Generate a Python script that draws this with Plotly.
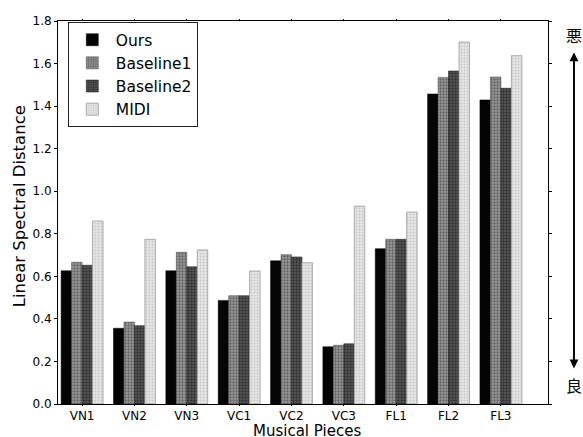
import plotly.graph_objects as go

pieces = ["VN1", "VN2", "VN3", "VC1", "VC2", "VC3", "FL1", "FL2", "FL3"]
ours = [0.626, 0.356, 0.626, 0.487, 0.673, 0.269, 0.730, 1.457, 1.429]
baseline1 = [0.666, 0.385, 0.713, 0.509, 0.702, 0.276, 0.774, 1.535, 1.537]
baseline2 = [0.652, 0.368, 0.645, 0.509, 0.691, 0.283, 0.774, 1.565, 1.484]
midi = [0.860, 0.774, 0.724, 0.625, 0.664, 0.930, 0.902, 1.701, 1.637]
y_ticks = [0.0, 0.2, 0.4, 0.6, 0.8, 1.0, 1.2, 1.4, 1.6, 1.8]

FONT = "DejaVu Sans"
xs = list(range(len(pieces)))

fig = go.Figure()
fig.add_trace(go.Bar(x=xs, y=ours, name="Ours",
                     marker=dict(color="#050505", line=dict(color="#000", width=0.5))))
fig.add_trace(go.Bar(x=xs, y=baseline1, name="Baseline1",
                     marker=dict(color="#8a8a8a", line=dict(color="#444", width=0.5),
                                 pattern=dict(shape=".", fgcolor="#2a2a2a", bgcolor="#9a9a9a",
                                              size=3, solidity=0.45))))
fig.add_trace(go.Bar(x=xs, y=baseline2, name="Baseline2",
                     marker=dict(color="#333", line=dict(color="#111", width=0.5),
                                 pattern=dict(shape=".", fgcolor="#0a0a0a", bgcolor="#5a5a5a",
                                              size=3, solidity=0.5))))
fig.add_trace(go.Bar(x=xs, y=midi, name="MIDI",
                     marker=dict(color="#dcdcdc", line=dict(color="#999", width=0.8),
                                 pattern=dict(shape=".", fgcolor="#aaaaaa", bgcolor="#e6e6e6",
                                              size=3, solidity=0.35))))

fig.update_layout(
    width=583, height=437,
    margin=dict(l=58, r=35, t=21, b=33, autoexpand=False),
    barmode="group", bargap=0.2, bargroupgap=0,
    plot_bgcolor="white", paper_bgcolor="white",
    font=dict(family=FONT, color="black", size=12),
    showlegend=True,
    legend=dict(x=0.02, y=0.997, xanchor="left", yanchor="top",
                bordercolor="#222", borderwidth=1, bgcolor="white",
                font=dict(family=FONT, size=15.5), itemwidth=37,
                tracegroupgap=1),
    xaxis=dict(tickmode="array", tickvals=xs, ticktext=pieces,
               range=[-0.46, 8.9], showgrid=False, zeroline=False, automargin=False,
               showline=True, linecolor="black", linewidth=1, mirror="ticks",
               ticks="outside", ticklen=1, tickcolor="black",
               tickfont=dict(family=FONT, size=12)),
    yaxis=dict(tickmode="array", tickvals=y_ticks,
               ticktext=[f"{v:.1f}" for v in y_ticks],
               range=[0, 1.8], showgrid=False, zeroline=False, automargin=False,
               showline=True, linecolor="black", linewidth=1, mirror="ticks",
               ticks="outside", ticklen=3, tickcolor="black",
               tickfont=dict(family=FONT, size=12)),
)

# Axis titles
fig.add_annotation(xref="paper", yref="paper", x=0.509, y=-0.071, showarrow=False,
                   xanchor="center", yanchor="middle",
                   text="Musical Pieces", font=dict(family=FONT, size=15, color="black"))
fig.add_annotation(xref="paper", yref="paper", x=-0.078, y=0.516, showarrow=False,
                   xanchor="center", yanchor="middle",
                   textangle=-90, text="Linear Spectral Distance",
                   font=dict(family=FONT, size=16.5, color="black"))

# Double-headed arrow at right with 悪 (bad) / 良 (good)
fig.add_annotation(xref="paper", yref="paper", x=1.053, y=0.918,
                   ax=0, ay=316, showarrow=True, arrowhead=2, arrowsize=1.1,
                   arrowwidth=1.6, arrowcolor="black", text="")
fig.add_annotation(xref="paper", yref="paper", x=1.053, y=0.093,
                   ax=0, ay=-316, showarrow=True, arrowhead=2, arrowsize=1.1,
                   arrowwidth=1.6, arrowcolor="black", text="")
fig.add_annotation(xref="paper", yref="paper", x=1.053, y=0.963, showarrow=False,
                   xanchor="center", yanchor="middle",
                   text="悪", font=dict(family="Noto Sans CJK JP", size=16, color="black"))
fig.add_annotation(xref="paper", yref="paper", x=1.053, y=0.05, showarrow=False,
                   xanchor="center", yanchor="middle",
                   text="良", font=dict(family="Noto Sans CJK JP", size=16, color="black"))

fig.write_html(
    "out.html",
    config={"displayModeBar": False},
    post_script="document.body.style.margin='0';"
                "document.documentElement.style.overflow='hidden';"
                "document.body.style.overflow='hidden';",
)
